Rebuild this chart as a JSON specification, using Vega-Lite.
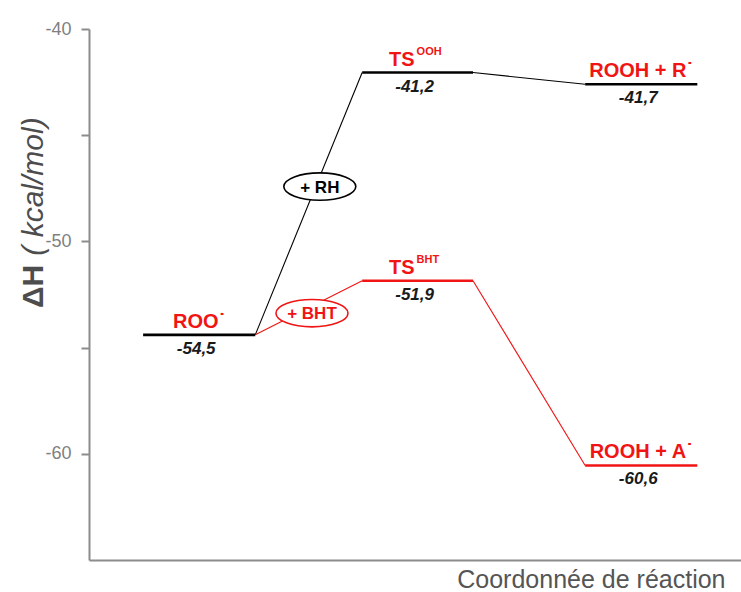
{
  "$schema": "https://vega.github.io/schema/vega-lite/v6.json",
  "width": 652,
  "height": 531,
  "autosize": "none",
  "padding": {"left": 89, "top": 29, "right": 0, "bottom": 32},
  "background": "white",
  "config": {"view": {"stroke": null}, "font": "Liberation Sans"},
  "datasets": {
    "levels": [
      {"state": "ROO", "x1": 0.83, "x2": 2.55, "xm": 1.69, "e": -54.4, "path": "RH", "name": "ROO˙", "sup": "", "val": "-54,5"},
      {"state": "TS_OOH", "x1": 4.19, "x2": 5.89, "xm": 5.04, "e": -42.05, "path": "RH", "name": "TS", "sup": "OOH", "val": "-41,2"},
      {"state": "ROOH_R", "x1": 7.61, "x2": 9.33, "xm": 8.47, "e": -42.6, "path": "RH", "name": "ROOH + R˙", "sup": "", "val": "-41,7"},
      {"state": "TS_BHT", "x1": 4.19, "x2": 5.89, "xm": 5.04, "e": -51.85, "path": "BHT", "name": "TS", "sup": "BHT", "val": "-51,9"},
      {"state": "ROOH_A", "x1": 7.61, "x2": 9.33, "xm": 8.47, "e": -60.55, "path": "BHT", "name": "ROOH + A˙", "sup": "", "val": "-60,6"}
    ],
    "links": [
      {"x1": 2.55, "e1": -54.4, "x2": 4.19, "e2": -42.05, "path": "RH"},
      {"x1": 5.89, "e1": -42.05, "x2": 7.61, "e2": -42.6, "path": "RH"},
      {"x1": 2.55, "e1": -54.4, "x2": 4.19, "e2": -51.85, "path": "BHT"},
      {"x1": 5.89, "e1": -51.85, "x2": 7.61, "e2": -60.55, "path": "BHT"}
    ],
    "reagents": [
      {"xm": 3.54, "e": -47.42, "text": "+ RH", "path": "RH"},
      {"xm": 3.42, "e": -53.38, "text": "+ BHT", "path": "BHT"}
    ]
  },
  "layer": [
    {
      "data": {"name": "links"},
      "mark": {"type": "rule", "strokeWidth": 1.1},
      "encoding": {
        "x": {"field": "x1", "type": "quantitative", "scale": {"domain": [0, 10], "nice": false, "zero": false},
          "axis": {"title": "Coordonnée de réaction", "ticks": false, "labels": false, "grid": false,
            "domainColor": "#8c8c8c", "domainWidth": 2, "titleFontSize": 25, "titleFontWeight": "normal",
            "titleColor": "#555555", "titleX": 636, "titleY": 27, "titleAlign": "right", "titleBaseline": "alphabetic",
            "titleFont": "Liberation Sans"}},
        "x2": {"field": "x2"},
        "y": {"field": "e1", "type": "quantitative", "scale": {"domain": [-65, -40], "nice": false, "zero": false},
          "axis": {"title": "ΔH", "values": [-60, -55, -50, -45, -40],
            "labelExpr": "datum.value % 10 === 0 ? '' + datum.value : ''",
            "grid": false, "domainColor": "#8c8c8c", "domainWidth": 2, "tickColor": "#8c8c8c", "tickWidth": 2,
            "tickSize": 8, "labelColor": "#808080", "labelFontSize": 18, "labelPadding": 10, "labelFont": "Liberation Sans",
            "titleFontSize": 30, "titleFontWeight": "bold", "titleColor": "#4d4d4d", "titleX": -47, "titleY": 257,
            "titleAlign": "center", "titleBaseline": "alphabetic", "titleAngle": -90, "titleFont": "Liberation Sans"}},
        "y2": {"field": "e2"},
        "color": {"field": "path", "type": "nominal", "scale": {"domain": ["RH", "BHT"], "range": ["#000000", "#f01414"]}, "legend": null}
      }
    },
    {
      "data": {"name": "levels"},
      "mark": {"type": "rule", "strokeWidth": 2.6},
      "encoding": {
        "x": {"field": "x1", "type": "quantitative"},
        "x2": {"field": "x2"},
        "y": {"field": "e", "type": "quantitative", "axis": null},
        "color": {"field": "path", "type": "nominal", "legend": null}
      }
    },
    {
      "data": {"name": "reagents"},
      "mark": {"type": "point", "shape": "M -1 0 A 1 0.38 0 1 0 1 0 A 1 0.38 0 1 0 -1 0 Z", "size": 5184,
        "fill": "white", "filled": false, "opacity": 1, "fillOpacity": 1, "strokeWidth": 1.6},
      "encoding": {
        "x": {"field": "xm", "type": "quantitative"},
        "y": {"field": "e", "type": "quantitative", "axis": null},
        "stroke": {"field": "path", "type": "nominal", "scale": {"domain": ["RH", "BHT"], "range": ["#000000", "#f01414"]}, "legend": null}
      }
    },
    {
      "data": {"name": "reagents"},
      "mark": {"type": "text", "fontSize": 17, "fontWeight": "bold", "baseline": "middle", "align": "center", "dy": 1},
      "encoding": {
        "x": {"field": "xm", "type": "quantitative"},
        "y": {"field": "e", "type": "quantitative", "axis": null},
        "text": {"field": "text"},
        "color": {"field": "path", "type": "nominal", "legend": null}
      }
    },
    {
      "data": {"name": "levels"},
      "transform": [{"filter": "datum.sup === ''"}],
      "mark": {"type": "text", "fontSize": 20, "fontWeight": "bold", "color": "#f01414", "align": "center", "baseline": "alphabetic", "dy": -7},
      "encoding": {
        "x": {"field": "xm", "type": "quantitative"},
        "y": {"field": "e", "type": "quantitative", "axis": null},
        "text": {"field": "name"}
      }
    },
    {
      "data": {"name": "levels"},
      "transform": [{"filter": "datum.sup !== ''"}],
      "mark": {"type": "text", "fontSize": 20, "fontWeight": "bold", "color": "#f01414", "align": "right", "baseline": "alphabetic", "dy": -7, "dx": -3},
      "encoding": {
        "x": {"field": "xm", "type": "quantitative"},
        "y": {"field": "e", "type": "quantitative", "axis": null},
        "text": {"field": "name"}
      }
    },
    {
      "data": {"name": "levels"},
      "transform": [{"filter": "datum.sup !== ''"}],
      "mark": {"type": "text", "fontSize": 11, "fontWeight": "bold", "color": "#f01414", "align": "left", "baseline": "alphabetic", "dy": -18, "dx": -1},
      "encoding": {
        "x": {"field": "xm", "type": "quantitative"},
        "y": {"field": "e", "type": "quantitative", "axis": null},
        "text": {"field": "sup"}
      }
    },
    {
      "data": {"name": "levels"},
      "mark": {"type": "text", "fontSize": 17, "fontWeight": "bold", "fontStyle": "italic", "color": "#1a1a1a", "align": "center", "baseline": "alphabetic", "dy": 19, "dx": -3},
      "encoding": {
        "x": {"field": "xm", "type": "quantitative"},
        "y": {"field": "e", "type": "quantitative",
          "axis": {"orient": "left", "title": "( kcal/mol)", "domain": false, "ticks": false, "labels": false, "grid": false,
            "titleFontSize": 30, "titleFontWeight": "normal", "titleFontStyle": "italic", "titleColor": "#4d4d4d",
            "titleX": -47, "titleY": 157, "titleAlign": "center", "titleBaseline": "alphabetic", "titleAngle": -90,
            "titleFont": "Liberation Sans"}},
        "text": {"field": "val"}
      }
    }
  ],
  "resolve": {"axis": {"y": "independent"}}
}
